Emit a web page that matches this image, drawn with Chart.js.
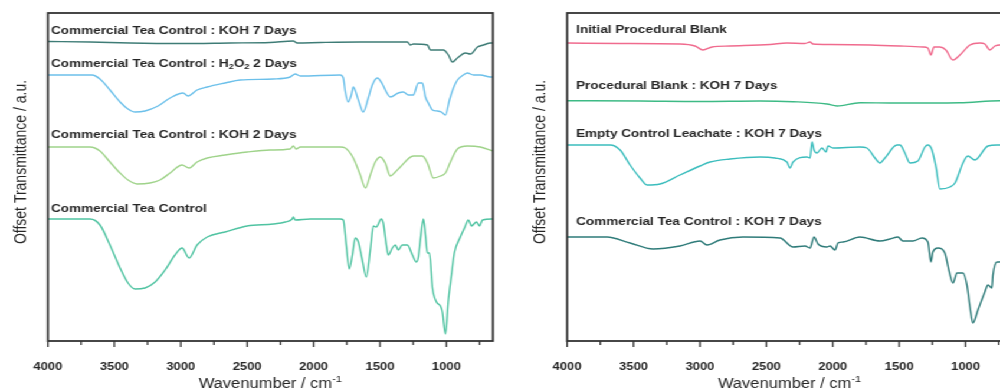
<!DOCTYPE html>
<html><head><meta charset="utf-8">
<script src="https://cdn.jsdelivr.net/npm/chart.js@4.4.1/dist/chart.umd.min.js"></script>
<style>
html,body{margin:0;padding:0;background:#fff;overflow:hidden;width:1000px;height:392px;}
#wrap{position:absolute;left:0;top:0;width:880px;height:392px;transform:scaleX(1.18);transform-origin:0 0;display:flex;}
.panel{position:relative;width:440px;height:392px;flex:none;}
</style></head><body>
<div id="wrap"><div class="panel"><canvas id="c1" width="440" height="392"></canvas></div><div class="panel"><canvas id="c2" width="440" height="392"></canvas></div></div>
<script>
// ---- axis ----
const xTickLabels = [4000, 3500, 3000, 2500, 2000, 1500, 1000];
const xMin = 650, xMax = 4000;
const xTitle = 'Wavenumber / cm⁻¹';
const yTitle = 'Offset Transmittance / a.u.';

// ---- left panel ----
const ctcKoh7Wave = [4000,3683,3382,3005,2628,2327,2153,2123,1950,1648,1294,1271,1249,1143,1121,1083,1022,985,955,917,857,819,766,721,668,650];
const ctcKoh7T    = [299.5,299,298,297.5,298,298.5,300,298,298.5,299,299,296,297,296,291,291,291,286,279,283,288,287,294,296,298,298];

const ctcH2o2Wave = [4000,3668,3608,3533,3457,3397,3344,3269,3171,3080,2982,2945,2877,2801,2666,2553,2304,2176,2138,2100,1799,1776,1761,1739,1716,1701,1663,1626,1588,1558,1520,1482,1452,1422,1362,1324,1286,1249,1211,1181,1158,1136,1105,1068,1038,1007,977,947,917,872,842,796,744,668,650];
const ctcH2o2T    = [266,266,262,251,239,232,229,230,235,243,248,245,251,254,258,261,262,264,267,265,266,263,249,239,246,254,241,229,243,256,263,257,249,244,248,249,246,246,258,258,244,238,231,230,229,226,241,253,261,266,268,266,266,264,264];

const ctcKoh2Wave = [4000,3683,3608,3533,3457,3397,3329,3231,3156,3080,2990,2937,2877,2801,2666,2500,2327,2176,2153,2131,2100,1799,1761,1701,1648,1610,1573,1535,1497,1460,1422,1384,1347,1249,1181,1143,1098,1045,1007,970,917,842,744,650];
const ctcKoh2T    = [194,194,190,179,168,161,157,158,161,168,176,173,179,183,186,189,191,192,195,192,194,194,193,183,166,153,166,179,184,178,165,169,174,185,185,178,163,165,168,179,192,195,194,190];

const ctcWave = [4000,3683,3608,3533,3457,3397,3344,3269,3193,3118,3043,2990,2937,2877,2801,2666,2500,2304,2213,2161,2153,2138,2025,1799,1776,1754,1731,1708,1686,1663,1633,1603,1573,1550,1528,1490,1475,1452,1437,1407,1384,1362,1332,1294,1256,1226,1211,1196,1173,1158,1143,1128,1105,1075,1045,1030,1007,985,962,940,895,864,834,811,774,751,728,650];
const ctcT    = [122,122,116,96,73,58,52,53,59,71,86,93,83,96,104,109,115,117,119,122,124,121,122,122,121,96,72,86,103,99,81,64,91,115,114,122,118,96,86,93,96,91,96,96,86,79,84,101,122,106,88,88,53,39,35,29,7,41,66,88,104,113,121,115,119,115,121,122];

const leftLabels = ['Commercial Tea Control : KOH 7 Days', 'Commercial Tea Control : H₂O₂ 2 Days', 'Commercial Tea Control : KOH 2 Days', 'Commercial Tea Control'];
const leftLabelLevels = [311.5, 278.5, 207, 133];

// ---- right panel ----
const ipbWave = [4000,3601,3150,3037,2977,2909,2773,2472,2345,2209,2171,2149,2021,1720,1494,1321,1284,1261,1238,1193,1148,1095,1043,967,892,855,817,779,742,650];
const ipbT    = [298,297.5,297,295,291,294,295,296.5,298,297.5,299,297,296.5,296,295,294,293,286,294,294,291,281,286,296,298,297,291,295,296,296];

const pbKoh7Wave = [4000,3451,3001,2548,2299,2044,1968,1795,1547,1043,742,650];
const pbKoh7T    = [240.3,240,239.5,240,239.3,237,235,238.3,238,238.3,240.3,240];

const eclWave = [4000,3676,3601,3526,3451,3398,3300,3150,2999,2924,2773,2548,2435,2345,2322,2299,2194,2171,2156,2141,2119,2081,2051,2036,1998,1795,1743,1682,1645,1607,1517,1494,1457,1419,1359,1306,1284,1253,1223,1193,1118,1080,1020,983,930,832,764,650];
const eclT    = [196,196,191,176,163,156,157,166,175,179,182,184,183,179,173,179,184,183,199,191,188,193,189,195,193,194,193,183,178,183,196,196,188,178,180,194,196,191,174,152,154,158,178,185,181,195,196,196];

const ctcKoh7bWave = [4000,3699,3526,3353,3150,2999,2947,2849,2676,2397,2299,2209,2171,2141,2111,2044,2021,1983,1961,1923,1795,1645,1569,1509,1472,1396,1329,1284,1261,1246,1208,1156,1126,1095,1065,1020,990,967,945,907,855,832,802,794,764,742,650];
const ctcKoh7bT    = [104,104,98,92,95,100,96,101,104,103,94,95,93,104,97,94,95,91,98,99,104,100,102,104,100,100,103,99,79,89,93,88,71,58,68,68,56,34,18,31,49,56,53,66,79,79,86];

const rightLabels = ['Initial Procedural Blank', 'Procedural Blank : KOH 7 Days', 'Empty Control Leachate : KOH 7 Days', 'Commercial Tea Control : KOH 7 Days'];
const rightLabelLevels = [312.5, 256.5, 208.5, 120.5];

// ---- helpers ----
const FAMILY = '"Liberation Sans", Arial, sans-serif';
function pts(w, t) { const n = Math.min(w.length, t.length); const o = []; for (let i = 0; i < n; i++) o.push({x: w[i], y: t[i]}); return o; }
function ds(w, t, color) { return {data: pts(w, t), borderColor: color, borderWidth: 1.4, pointRadius: 0, cubicInterpolationMode: 'monotone', fill: false}; }

const SUB = {'₀':'0','₁':'1','₂':'2','₃':'3','₄':'4','₅':'5','₆':'6','₇':'7','₈':'8','₉':'9'};
const SUP = {'⁻':'-','¹':'1','²':'2','³':'3'};
function segs(text) {
  const out = []; let cur = '';
  for (const ch of text) {
    if (SUB[ch] || SUP[ch]) { if (cur) out.push({t: cur, k: 0}); cur = ''; const k = SUB[ch] ? 1 : 2; const c = SUB[ch] || SUP[ch];
      if (out.length && out[out.length-1].k === k) out[out.length-1].t += c; else out.push({t: c, k}); }
    else cur += ch;
  }
  if (cur) out.push({t: cur, k: 0});
  return out;
}
function richWidth(ctx, text, size, weight) {
  let w = 0;
  for (const s of segs(text)) { ctx.font = (weight||'normal') + ' ' + (s.k ? size*0.68 : size) + 'px ' + FAMILY; w += ctx.measureText(s.t).width; }
  return w;
}
function drawRich(ctx, text, x, y, size, weight) {
  ctx.textAlign = 'left'; ctx.textBaseline = 'alphabetic';
  for (const s of segs(text)) {
    const fs = s.k ? size*0.68 : size;
    ctx.font = (weight||'normal') + ' ' + fs + 'px ' + FAMILY;
    const dy = s.k === 1 ? size*0.22 : (s.k === 2 ? -size*0.42 : 0);
    ctx.fillText(s.t, x, y + dy);
    x += ctx.measureText(s.t).width;
  }
}

const decor = {
  id: 'decor',
  afterDraw(chart, args, opts) {
    const ctx = chart.ctx, a = chart.chartArea, xs = chart.scales.x, ys = chart.scales.y;
    ctx.save();
    ctx.strokeStyle = '#333'; ctx.fillStyle = '#262626';
    // minor & major ticks
    ctx.lineWidth = 1.3;
    for (let v = xMax; v >= xs.min; v -= 250) {
      const px = xs.getPixelForValue(v);
      const major = xTickLabels.includes(v);
      ctx.beginPath(); ctx.moveTo(px, a.bottom); ctx.lineTo(px, a.bottom + (major ? 6 : 4)); ctx.stroke();
    }
    // frame
    ctx.lineWidth = 1.8;
    ctx.strokeRect(a.left, a.top, a.right - a.left, a.bottom - a.top);
    // series labels
    const labs = opts.labels, lv = opts.levels;
    for (let i = 0; i < labs.length; i++) {
      const py = ys.getPixelForValue(lv[i]);
      drawRich(ctx, labs[i], a.left + opts.labelDx, py + 4.2, 11.5, 'bold');
    }
    // x title
    const tw = richWidth(ctx, xTitle, 14);
    drawRich(ctx, xTitle, (a.left + a.right)/2 - tw/2, 388, 14);
    // y title
    ctx.translate(18.6, 162); ctx.rotate(-Math.PI/2);
    ctx.font = '14px ' + FAMILY;
    ctx.textAlign = 'center'; ctx.textBaseline = 'middle';
    ctx.fillText(yTitle, 0, 0);
    ctx.restore();
  }
};

function makeChart(id, datasets, labels, levels, labelDx) {
  return new Chart(document.getElementById(id), {
    type: 'line',
    data: {datasets},
    options: {
      responsive: false, animation: false, devicePixelRatio: 1,
      layout: {padding: {top: 13, right: 22.3, bottom: 0, left: 0}},
      plugins: {legend: {display: false}, tooltip: {enabled: false}, decor: {labels, levels, labelDx}},
      scales: {
        x: {type: 'linear', min: xMin, max: xMax, reverse: true,
            grid: {display: false}, border: {display: false},
            afterBuildTicks: s => { s.ticks = xTickLabels.filter(v => v >= s.min && v <= s.max).map(v => ({value: v})); },
            afterFit: s => { s.height = 51; },
            ticks: {autoSkip: false, maxRotation: 0, padding: 11, color: '#262626',
                    font: {family: FAMILY, size: 11, weight: 'bold'},
                    callback: v => String(v)}},
        y: {type: 'linear', min: 0, max: 328,
            grid: {display: false}, border: {display: false},
            ticks: {display: false},
            afterFit: s => { s.width = 40.6; }}
      }
    },
    plugins: [decor]
  });
}

makeChart('c1', [
  ds(ctcKoh7Wave, ctcKoh7T, '#3e7c76'),
  ds(ctcH2o2Wave, ctcH2o2T, '#6cc0ea'),
  ds(ctcKoh2Wave, ctcKoh2T, '#9fd38a'),
  ds(ctcWave, ctcT, '#4fc3a1')
], leftLabels, leftLabelLevels, 2.6);

makeChart('c2', [
  ds(ipbWave, ipbT, '#f06b8e'),
  ds(pbKoh7Wave, pbKoh7T, '#3dba85'),
  ds(eclWave, eclT, '#3bbdbd'),
  ds(ctcKoh7bWave, ctcKoh7bT, '#2e7b79')
], rightLabels, rightLabelLevels, 7.6);
</script>
</body></html>
